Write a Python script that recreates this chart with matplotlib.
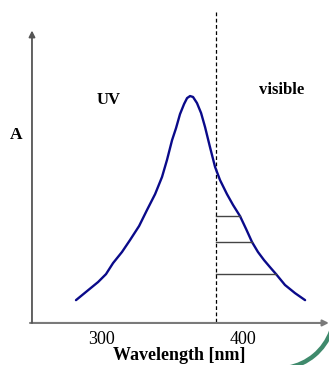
import matplotlib
matplotlib.use("Agg")
import matplotlib.pyplot as plt
from matplotlib.patches import Arc

# Absorption band (wavelength in nm, absorbance normalised to peak)
wavelength = [282.3, 290.1, 297.9, 303.5, 308.5, 314.8, 320.5, 326.9, 332.5, 338.2,
              343.1, 346.6, 350.2, 353.0, 355.8, 358.7, 360.8, 362.9, 365.0, 367.8,
              370.7, 373.5, 377.0, 380.6, 384.1, 389.0, 393.3, 398.2, 402.5, 406.7,
              410.9, 415.2, 419.4, 423.7, 430.0, 437.1, 444.2]
absorbance = [0.097, 0.137, 0.177, 0.212, 0.261, 0.310, 0.363, 0.425, 0.496, 0.566,
              0.642, 0.717, 0.805, 0.858, 0.920, 0.965, 0.991, 1.0, 0.996, 0.969,
              0.925, 0.863, 0.774, 0.686, 0.628, 0.566, 0.518, 0.469, 0.412, 0.354,
              0.310, 0.274, 0.243, 0.212, 0.164, 0.128, 0.097]

# horizontal marks from the UV/visible border to the curve
border_nm = 380
mark_levels = [0.469, 0.354, 0.212]
mark_ends = [398.2, 406.7, 423.7]

tick_values = [300, 400]
tick_labels = ["300", "400"]

fig = plt.figure(figsize=(3.29, 3.65), dpi=100)
ax = fig.add_axes([0, 0, 1, 1])
ax.set_xlim(228.6, 461.1)
ax.set_ylim(-0.19, 1.425)
ax.axis("off")

serif = "Liberation Serif"

# axes with arrows
x0, y0 = 249.8, -0.004
ax.annotate("", xy=(461.0, y0), xytext=(x0, y0),
            arrowprops=dict(arrowstyle="-|>", color="#7a7a7a", lw=1.5,
                            mutation_scale=9, shrinkA=0, shrinkB=0))
ax.annotate("", xy=(251.2, 1.29), xytext=(251.2, y0),
            arrowprops=dict(arrowstyle="-|>", color="#555555", lw=1.3,
                            mutation_scale=9, shrinkA=0, shrinkB=0))

# UV / visible border
ax.plot([border_nm + 1, border_nm + 1], [0, 1.37], color="black", lw=0.9,
        linestyle=(0, (3, 2)))

ax.plot(wavelength, absorbance, color="#0a0a8a", lw=1.7,
        solid_capstyle="round", solid_joinstyle="round")

for lvl, end in zip(mark_levels, mark_ends):
    ax.plot([border_nm + 1, end], [lvl, lvl], color="#444444", lw=1.0)

for v, lab in zip(tick_values, tick_labels):
    ax.text(v, -0.077, lab, ha="center", va="center", fontsize=13, family=serif)

ax.text(355.5, -0.149, "Wavelength [nm]", ha="center", va="center",
        fontsize=13, fontweight="bold", family=serif)
ax.text(239.8, 0.827, "A", ha="center", va="center", fontsize=12.5,
        fontweight="bold", family=serif)
ax.text(305.5, 0.983, "UV", ha="center", va="center", fontsize=12,
        fontweight="bold", family=serif)
ax.text(427.5, 1.027, "visible", ha="center", va="center", fontsize=12,
        fontweight="bold", family=serif)

# green decorative arc in the bottom right corner (pixel coordinates)
pix = fig.add_axes([0, 0, 1, 1])
pix.set_xlim(0, 329)
pix.set_ylim(365, 0)
pix.axis("off")
pix.add_patch(Arc((278, 312), 113, 113, theta1=20, theta2=80,
                  color="#3f8a6c", lw=3.2))

fig.savefig("out.png", dpi=100)
